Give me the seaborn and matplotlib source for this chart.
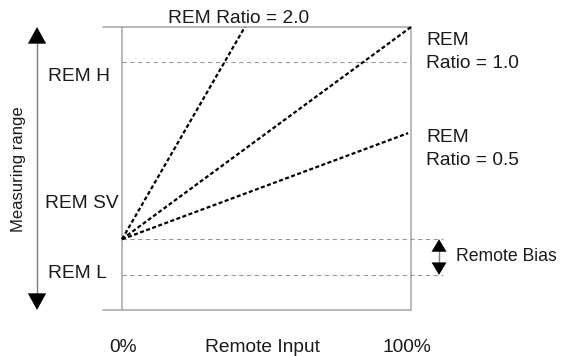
import matplotlib
matplotlib.use("Agg")
import matplotlib.pyplot as plt
import seaborn as sns
import pandas as pd

sns.set_theme(style="white")
plt.rcParams['font.family'] = ['Liberation Sans', 'DejaVu Sans']

# ---- data (x: remote input %, y: position in measuring range, 0..100) ----
ratio_names = ["REM Ratio = 2.0", "REM Ratio = 1.0", "REM Ratio = 0.5"]
line_x_start = [0, 0, 0]
line_x_end = [42.5, 100, 99]
line_y_start = [25.0, 25.0, 25.0]
line_y_end = [100, 100, 62.5]

rem_h = 87.6
rem_bias = 25.0
rem_l = 12.4

level_labels = ["REM H", "REM SV", "REM L"]
x_tick_labels = ["0%", "Remote Input", "100%"]

rows = []
for n, x0, x1, y0, y1 in zip(ratio_names, line_x_start, line_x_end, line_y_start, line_y_end):
    rows.append({"ratio": n, "x": x0, "y": y0})
    rows.append({"ratio": n, "x": x1, "y": y1})
df = pd.DataFrame(rows)

W, H = 564, 356
fig = plt.figure(figsize=(W / 100, H / 100), dpi=100)
fig.patch.set_facecolor("white")
ax = fig.add_axes([122 / W, (H - 310) / H, 289 / W, 283 / H])
ax.set_xlim(0, 100)
ax.set_ylim(0, 100)
ax.axis("off")

gray = "#a6a6a6"
dgray = "#9a9a9a"
# frame lines
ax.plot([-6.6, 100], [100, 100], color=gray, lw=1.1, clip_on=False)
ax.plot([-6.6, 100], [0, 0], color=gray, lw=1.1, clip_on=False)
ax.plot([0, 0], [0, 100], color=gray, lw=1.1, clip_on=False)
ax.plot([100, 100], [0, 100], color=gray, lw=1.1, clip_on=False)

# dashed reference levels
ax.plot([0, 100], [rem_h, rem_h], color=dgray, lw=0.8, ls=(0, (4, 3)), clip_on=False)
ax.plot([0, 111], [rem_bias, rem_bias], color=dgray, lw=0.8, ls=(0, (4, 3)), clip_on=False)
ax.plot([0, 111], [rem_l, rem_l], color=dgray, lw=0.8, ls=(0, (4, 3)), clip_on=False)

# ratio lines
sns.lineplot(data=df, x="x", y="y", units="ratio", estimator=None, sort=False,
             color="black", lw=1.6, ax=ax, legend=False)
for l in ax.lines[-3:]:
    l.set_linestyle((0, (1.8, 1.1)))
    l.set_clip_on(False)
ax.set_xlabel("")
ax.set_ylabel("")
ax.axis("off")

# measuring range arrow
big = "-|>,head_width=0.55,head_length=1.0"
ax.plot([-29.4, -29.4], [3, 97], color="#7f7f7f", lw=1.0, clip_on=False)
ax.annotate("", xy=(-29.4, 100), xytext=(-29.4, 90),
            arrowprops=dict(arrowstyle=big, color="black", lw=0, shrinkA=0, shrinkB=0),
            annotation_clip=False)
ax.annotate("", xy=(-29.4, 0), xytext=(-29.4, 10),
            arrowprops=dict(arrowstyle=big, color="black", lw=0, shrinkA=0, shrinkB=0),
            annotation_clip=False)

# remote bias arrow
small = "-|>,head_width=0.45,head_length=0.75"
bx = 109.7
ax.plot([bx, bx], [rem_l + 3, rem_bias - 3], color="#7f7f7f", lw=1.0, clip_on=False)
ax.annotate("", xy=(bx, rem_bias), xytext=(bx, rem_bias - 5),
            arrowprops=dict(arrowstyle=small, color="black", lw=0, shrinkA=0, shrinkB=0),
            annotation_clip=False)
ax.annotate("", xy=(bx, rem_l), xytext=(bx, rem_l + 5),
            arrowprops=dict(arrowstyle=small, color="black", lw=0, shrinkA=0, shrinkB=0),
            annotation_clip=False)

def ftxt(x, y, s, size=13.8, **kw):
    fig.text(x / W, 1 - y / H, s, fontsize=size, color="#1a1a1a", **kw)

ftxt(239, 23, ratio_names[0], ha="center", va="baseline")
ftxt(426, 45, "REM", ha="left", va="baseline")
ftxt(426, 68, "Ratio = 1.0", ha="left", va="baseline")
ftxt(426, 142, "REM", ha="left", va="baseline")
ftxt(426, 165, "Ratio = 0.5", ha="left", va="baseline")
ftxt(456, 261, "Remote Bias", size=12.7, ha="left", va="baseline")

ftxt(48, 81, level_labels[0], ha="left", va="baseline")
ftxt(45, 208, level_labels[1], ha="left", va="baseline")
ftxt(48, 278, level_labels[2], ha="left", va="baseline")

ftxt(123, 352, x_tick_labels[0], ha="center", va="baseline")
ftxt(262, 352, x_tick_labels[1], ha="center", va="baseline")
ftxt(407, 352, x_tick_labels[2], ha="center", va="baseline")

ftxt(19, 169, "Measuring range", size=12.0, ha="center", va="center", rotation=90)

fig.savefig("out.png", dpi=100, facecolor="white")
